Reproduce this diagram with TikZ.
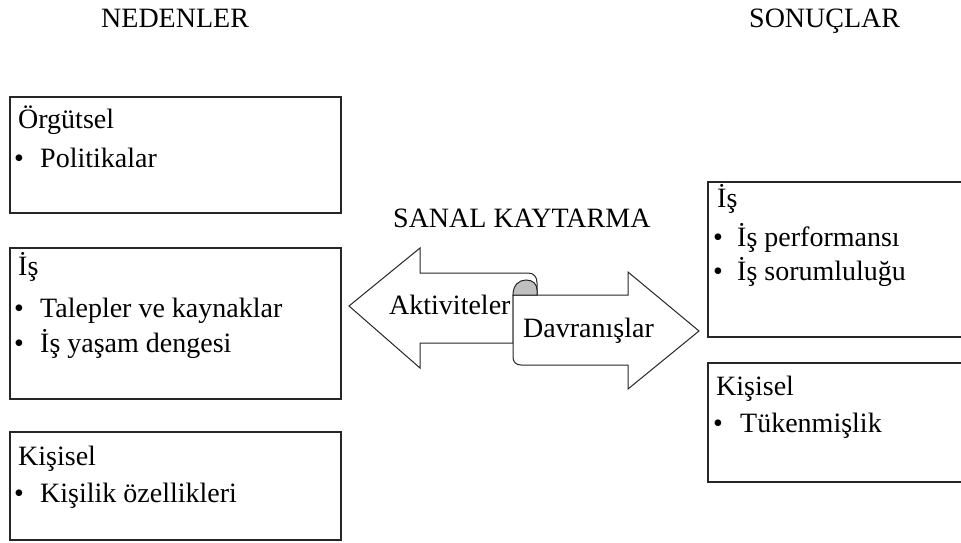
\documentclass[tikz,border=0pt]{standalone}
\usepackage{fontspec}
\setmainfont{Liberation Serif}
\newcommand\txtsize{\fontsize{28}{32}\selectfont}
\tikzset{
  box/.style={draw=black!85, line width=1.3pt},
  lbl/.style={anchor=base west, inner sep=0pt, font=\txtsize},
  blt/.style={anchor=base west, inner sep=0pt, font=\txtsize},
  arrowshape/.style={draw=black!85, fill=white, line width=1pt, line join=miter},
  curl/.style={draw=black!85, fill=black!25, line width=1pt}
}
\begin{document}
\begin{tikzpicture}[x=1pt,y=-1pt]
\useasboundingbox (0,0) rectangle (961,543);
\clip (0,0) rectangle (961,543);

% column headings
\node[lbl] (causes) at (101,28) {NEDENLER};
\node[lbl] (results) at (749,28) {SONUÇLAR};
\node[lbl] (title) at (393,227) {SANAL KAYTARMA};

% left column: causes
\draw[box] (10,97) rectangle (341,213);
\node[lbl] (org) at (18,128) {Örgütsel};
\node[blt] (orgb1) at (14,167) {•};
\node[lbl] (orgi1) at (40,167) {Politikalar};

\draw[box] (10,248) rectangle (341,399);
\node[lbl] (job) at (18,275) {İş};
\node[blt] (jobb1) at (14,317) {•};
\node[lbl] (jobi1) at (40,317) {Talepler ve kaynaklar};
\node[blt] (jobb2) at (14,352) {•};
\node[lbl] (jobi2) at (40,352) {İş yaşam dengesi};

\draw[box] (10,432) rectangle (341,540);
\node[lbl] (pers) at (18,465) {Kişisel};
\node[blt] (persb1) at (14,502) {•};
\node[lbl] (persi1) at (40,502) {Kişilik özellikleri};

% right column: results
\draw[box] (708,182) rectangle (975,337);
\node[lbl] (rjob) at (717,207) {İş};
\node[blt] (rjobb1) at (713,246) {•};
\node[lbl] (rjobi1) at (737,246) {İş performansı};
\node[blt] (rjobb2) at (713,280) {•};
\node[lbl] (rjobi2) at (737,280) {İş sorumluluğu};

\draw[box] (708,363) rectangle (975,482);
\node[lbl] (rpers) at (716,395) {Kişisel};
\node[blt] (rpersb1) at (713,432) {•};
\node[lbl] (rpersi1) at (740,432) {Tükenmişlik};

% centre: left arrow with rolled end, right arrow laid over it
\draw[arrowshape] (513,343) -- (420,343) -- (420,368) -- (349,306)
  -- (420,248) -- (420,273) -- (528,273)
  .. controls (534,273) and (537,277) .. (537,283) -- (537,295)
  -- (513,295) -- cycle;
\draw[arrowshape] (513,295) -- (628,295) -- (628,272) -- (699,331)
  -- (628,389) -- (628,365) -- (521,365)
  .. controls (516,365) and (513,362) .. (513,357) -- cycle;
\draw[curl] (513,295) .. controls (513,285) and (519,280) .. (526,280)
  .. controls (533,280) and (537,284) .. (537,290) -- (537,295) -- cycle;

\node[lbl] (act) at (389,314) {Aktiviteler};
\node[lbl] (beh) at (523,337) {Davranışlar};
\end{tikzpicture}
\end{document}
